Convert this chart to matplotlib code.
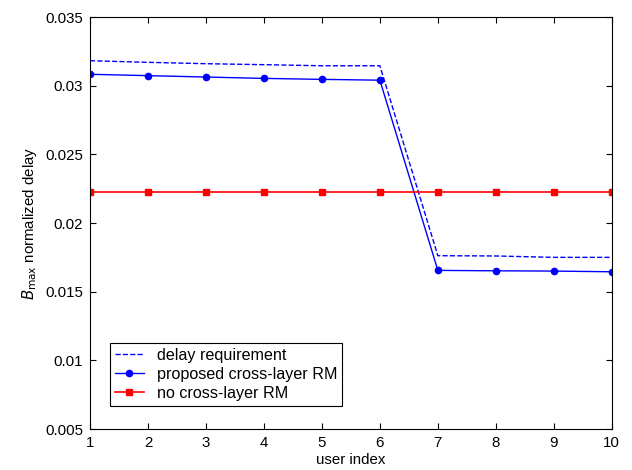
import matplotlib
matplotlib.use("Agg")
import matplotlib.pyplot as plt

users = [1, 2, 3, 4, 5, 6, 7, 8, 9, 10]
delay_req = [0.03182, 0.0317, 0.0316, 0.03153, 0.03145, 0.03145, 0.01762, 0.0176, 0.0175, 0.0175]
proposed = [0.03083, 0.03073, 0.03063, 0.03053, 0.03046, 0.0304, 0.01655, 0.01652, 0.0165, 0.01645]
no_cross = [0.02223] * 10

yticks = [0.005, 0.01, 0.015, 0.02, 0.025, 0.03, 0.035]
ytick_labels = ["0.005", "0.01", "0.015", "0.02", "0.025", "0.03", "0.035"]

plt.rcParams['font.family'] = ['Liberation Sans', 'DejaVu Sans']
plt.rcParams['font.size'] = 10.8

fig = plt.figure(figsize=(6.32, 4.70), dpi=100)
ax = fig.add_axes([0.1424, 0.0872, 0.8256, 0.8766])

ax.plot(users, delay_req, '--', color='blue', lw=1, label='delay requirement')
ax.plot(users, proposed, '-o', color='blue', lw=1, ms=4.5, label='proposed cross-layer RM')
ax.plot(users, no_cross, '-s', color='red', lw=1.2, ms=4.5, label='no cross-layer RM')

ax.set_xlim(1, 10)
ax.set_ylim(0.005, 0.035)
ax.set_xticks(users)
ax.set_yticks(yticks)
ax.set_yticklabels(ytick_labels)
ax.tick_params(direction='in', top=True, right=True, length=4, pad=5)
ax.set_xlabel('user index', labelpad=2)
ax.set_ylabel(r'$B_{\rm max}$ normalized delay', labelpad=4)

leg = ax.legend(loc='lower left', bbox_to_anchor=(0.038, 0.056), borderaxespad=0,
                fancybox=False, edgecolor='black', framealpha=1, borderpad=0.3,
                labelspacing=0.25, handlelength=1.8, handletextpad=0.8,
                fontsize=11.6)
leg.get_frame().set_linewidth(0.8)

fig.savefig('out.png', dpi=100)
